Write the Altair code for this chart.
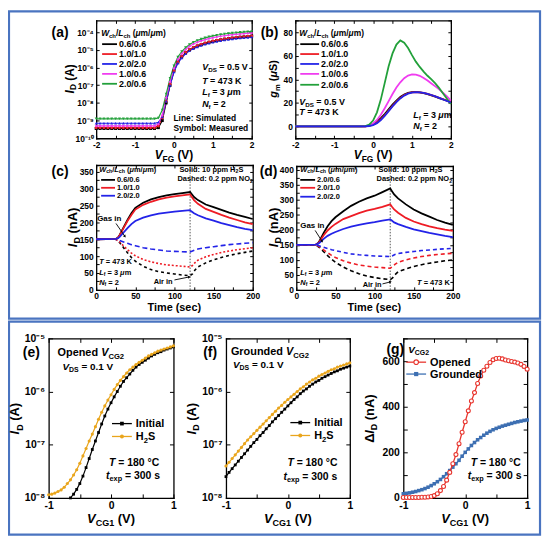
import math
import altair as alt
import pandas as pd

# ------------------------------------------------------------------ data
VFG = [-2.0, -1.9, -1.8, -1.7, -1.6, -1.5, -1.4, -1.3, -1.2, -1.1, -1.0,
       -0.9, -0.8, -0.7, -0.6, -0.5, -0.4, -0.3, -0.2, -0.1, 0.0,
       0.1, 0.2, 0.3, 0.4, 0.5, 0.6, 0.7, 0.8, 0.9, 1.0,
       1.1, 1.2, 1.3, 1.4, 1.5, 1.6, 1.7, 1.8, 1.9, 2.0]
SER_A = ["0.6/0.6", "1.0/1.0", "2.0/2.0", "1.0/0.6", "2.0/0.6"]
# (a) log10(I_D / A)
LOGI_0606 = [-9.45, -9.45, -9.45, -9.45, -9.45, -9.45, -9.45, -9.45, -9.45, -9.45, -9.45,
             -9.45, -9.45, -9.45, -9.45, -9.45, -9.4, -9.0, -8.0, -7.0, -6.2,
             -5.7, -5.4, -5.17, -5.0, -4.88, -4.78, -4.70, -4.63, -4.57, -4.52,
             -4.47, -4.43, -4.39, -4.36, -4.33, -4.30, -4.28, -4.26, -4.24, -4.22]
LOGI_1010 = [-9.4, -9.4, -9.4, -9.4, -9.4, -9.4, -9.4, -9.4, -9.4, -9.4, -9.4,
             -9.4, -9.4, -9.4, -9.4, -9.4, -9.3, -8.85, -7.9, -6.95, -6.2,
             -5.7, -5.38, -5.15, -4.98, -4.86, -4.76, -4.68, -4.61, -4.55, -4.5,
             -4.46, -4.42, -4.38, -4.35, -4.32, -4.29, -4.27, -4.25, -4.23, -4.21]
LOGI_2020 = [-9.15, -9.15, -9.15, -9.15, -9.15, -9.15, -9.15, -9.15, -9.15, -9.15, -9.15,
             -9.15, -9.15, -9.15, -9.15, -9.15, -9.1, -8.8, -7.9, -7.0, -6.25,
             -5.75, -5.45, -5.22, -5.05, -4.93, -4.83, -4.75, -4.68, -4.62, -4.57,
             -4.52, -4.48, -4.44, -4.41, -4.38, -4.35, -4.33, -4.31, -4.29, -4.27]
LOGI_1006 = [-9.3, -9.3, -9.3, -9.3, -9.3, -9.3, -9.3, -9.3, -9.3, -9.3, -9.3,
             -9.3, -9.3, -9.3, -9.3, -9.3, -9.2, -8.7, -7.7, -6.8, -6.05,
             -5.55, -5.22, -4.98, -4.8, -4.67, -4.57, -4.49, -4.42, -4.36, -4.31,
             -4.27, -4.23, -4.2, -4.17, -4.14, -4.12, -4.1, -4.08, -4.06, -4.05]
LOGI_2006 = [-8.9, -8.9, -8.9, -8.9, -8.9, -8.9, -8.9, -8.9, -8.9, -8.9, -8.9,
             -8.9, -8.9, -8.9, -8.9, -8.9, -8.85, -8.4, -7.5, -6.6, -5.9,
             -5.4, -5.1, -4.87, -4.7, -4.57, -4.47, -4.39, -4.32, -4.26, -4.21,
             -4.17, -4.13, -4.1, -4.07, -4.05, -4.03, -4.01, -3.99, -3.97, -3.96]
# (b) g_m (uS)
GM_0606 = [0, 0, 0, 0, 0, 0, 0, 0, 0, 0, 0, 0, 0, 0, 0, 0, 0, 0,
           0.2, 0.8, 2, 4, 7, 10.5, 14.5, 18.5, 22, 25, 27, 28.5, 29.2,
           29.3, 29, 28.3, 27.4, 26.4, 25.3, 24.1, 23, 21.8, 20.7]
GM_1010 = [0, 0, 0, 0, 0, 0, 0, 0, 0, 0, 0, 0, 0, 0, 0, 0, 0, 0,
           0.1, 0.5, 1.5, 3.2, 6, 9.5, 13.5, 17.5, 21, 24.2, 26.6, 28.2, 29,
           29.2, 29, 28.4, 27.6, 26.6, 25.5, 24.3, 23.1, 21.9, 20.8]
GM_2020 = [0, 0, 0, 0, 0, 0, 0, 0, 0, 0, 0, 0, 0, 0, 0, 0, 0, 0,
           0.1, 0.4, 1.2, 2.8, 5.5, 9, 13, 17, 20.7, 23.8, 26.2, 27.9, 28.8,
           29.1, 29, 28.5, 27.7, 26.7, 25.5, 24.2, 22.9, 21.6, 20.3]
GM_1006 = [0, 0, 0, 0, 0, 0, 0, 0, 0, 0, 0, 0, 0, 0, 0, 0, 0, 0,
           0.2, 0.8, 2.5, 5.5, 10, 15.5, 21.5, 27.5, 33, 37.5, 41, 43.2, 44.2,
           44, 43, 41.2, 39, 36.5, 34, 31.5, 28.5, 25.5, 22]
GM_2006 = [0, 0, 0, 0, 0, 0, 0, 0, 0, 0, 0, 0, 0, 0, 0, 0, 0, 0,
           0.3, 1.5, 5, 12, 23, 37, 51, 62, 69.5, 73, 71, 66.5, 60.5,
           55, 50.5, 46.5, 43, 40, 36.5, 32.5, 28, 23.5, 19]
# (c), (d) transient I_D (nA)
T_SOLID = [0, 25, 28, 30, 35, 40, 45, 50, 60, 70, 80, 90, 100, 110, 120,
           122, 125, 130, 140, 150, 160, 170, 180, 190, 200]
T_DASH = [0, 25, 30, 35, 40, 45, 50, 60, 70, 80, 90, 100, 110, 120,
          123, 126, 130, 140, 150, 160, 170, 180, 190, 200]
SER_C = ["0.6/0.6", "1.0/1.0", "2.0/2.0"]
C_H2S_0606 = [150, 151, 155, 163, 185, 207, 227, 243, 258, 268, 275, 280, 284, 287, 290,
              284, 275, 266, 253, 245, 237, 229, 222, 216, 210]
C_H2S_1010 = [150, 151, 155, 162, 183, 204, 222, 238, 252, 261, 268, 273, 277, 280, 283,
              276, 266, 255, 240, 231, 222, 214, 207, 200, 195]
C_H2S_2020 = [150, 151, 153, 157, 170, 183, 195, 204, 214, 221, 226, 229, 232, 234, 236,
              232, 227, 221, 212, 205, 198, 192, 186, 181, 177]
C_NO2_0606 = [150, 150, 140, 125, 110, 96, 85, 70, 60, 54, 50, 47, 44, 42,
              47, 58, 68, 80, 89, 96, 102, 107, 111, 115]
C_NO2_1010 = [150, 150, 142, 130, 119, 109, 101, 90, 83, 78, 74, 72, 70, 68,
              72, 80, 88, 98, 105, 111, 115, 119, 122, 125]
C_NO2_2020 = [150, 150, 146, 142, 138, 134, 131, 125, 121, 118, 115, 114, 113, 112,
              115, 118, 121, 125, 128, 131, 134, 136, 138, 140]
SER_D = ["2.0/0.6", "2.0/1.0", "2.0/2.0"]
D_H2S_2006 = [150, 151, 156, 165, 190, 212, 229, 242, 262, 280, 294, 305, 314, 326, 338,
              330, 318, 305, 285, 268, 255, 244, 233, 224, 217]
D_H2S_2010 = [150, 151, 155, 162, 182, 198, 210, 220, 236, 246, 256, 264, 270, 277, 285,
              278, 268, 257, 240, 228, 219, 212, 206, 201, 197]
D_H2S_2020 = [150, 151, 154, 158, 170, 180, 187, 193, 203, 211, 217, 222, 226, 231, 235,
              231, 225, 219, 210, 202, 196, 190, 185, 180, 176]
D_NO2_2006 = [150, 150, 140, 127, 114, 102, 92, 76, 64, 54, 46, 41, 37, 34,
              40, 50, 60, 70, 78, 84, 89, 93, 97, 100]
D_NO2_2010 = [150, 150, 143, 133, 124, 115, 108, 97, 89, 83, 79, 76, 74, 72,
              77, 85, 92, 100, 106, 111, 115, 118, 120, 122]
D_NO2_2020 = [150, 150, 146, 142, 138, 134, 131, 125, 120, 117, 115, 113, 112, 111,
              114, 118, 121, 125, 128, 131, 133, 135, 137, 138]
# (e)-(g) vs V_CG1
VCG = [-1.0, -0.95, -0.9, -0.85, -0.8, -0.75, -0.7, -0.65, -0.6, -0.55, -0.5,
       -0.45, -0.4, -0.35, -0.3, -0.25, -0.2, -0.15, -0.1, -0.05, 0.0,
       0.05, 0.1, 0.15, 0.2, 0.25, 0.3, 0.35, 0.4, 0.45, 0.5,
       0.55, 0.6, 0.65, 0.7, 0.75, 0.8, 0.85, 0.9, 0.95, 1.0]
E_INIT_FROM = 7  # initial curve enters the frame at V_CG1 = -0.65 V
E_INIT = [-8.0, -7.93, -7.84, -7.73, -7.59, -7.43, -7.26, -7.09, -6.93, -6.77,
          -6.61, -6.46, -6.33, -6.21, -6.10, -6.0, -5.9, -5.81, -5.74, -5.67,
          -5.6, -5.54, -5.49, -5.45, -5.41, -5.37, -5.33, -5.3, -5.27, -5.25,
          -5.22, -5.2, -5.18, -5.16]
E_H2S = [-7.94, -7.93, -7.91, -7.88, -7.85, -7.80, -7.73, -7.66, -7.57, -7.47, -7.35,
         -7.21, -7.07, -6.93, -6.80, -6.66, -6.52, -6.39, -6.27, -6.16, -6.06,
         -5.96, -5.87, -5.79, -5.72, -5.65, -5.59, -5.54, -5.49, -5.45, -5.41,
         -5.37, -5.33, -5.30, -5.27, -5.24, -5.22, -5.20, -5.18, -5.16, -5.14]
F_INIT = [-7.60, -7.52, -7.45, -7.38, -7.31, -7.24, -7.17, -7.10, -7.03, -6.96, -6.90,
          -6.83, -6.77, -6.70, -6.64, -6.57, -6.51, -6.45, -6.39, -6.33, -6.27,
          -6.21, -6.15, -6.10, -6.04, -5.99, -5.95, -5.90, -5.86, -5.82, -5.79,
          -5.75, -5.72, -5.69, -5.66, -5.63, -5.61, -5.58, -5.56, -5.54, -5.52]
F_H2S = [-7.40, -7.33, -7.26, -7.19, -7.12, -7.05, -6.98, -6.91, -6.85, -6.79, -6.73,
         -6.67, -6.61, -6.55, -6.49, -6.43, -6.37, -6.31, -6.26, -6.20, -6.15,
         -6.10, -6.05, -6.00, -5.95, -5.91, -5.86, -5.82, -5.78, -5.75, -5.71,
         -5.68, -5.65, -5.62, -5.59, -5.57, -5.54, -5.52, -5.50, -5.48, -5.46]
G_OPENED = [2, 2, 2, 2, 2, 2, 3, 3, 4, 6, 10, 18, 32, 50, 78, 112, 150, 190, 238, 288, 334,
            382, 425, 462, 502, 535, 560, 578, 594, 606, 612, 613, 610, 605, 602, 599,
            596, 592, 586, 577, 565]
G_GROUNDED = [18, 20, 22, 25, 28, 32, 36, 41, 47, 54, 62, 71, 81, 93, 106, 120, 135, 150,
              165, 183, 200, 215, 230, 243, 255, 265, 275, 284, 292, 299, 305, 310, 315,
              319, 323, 327, 331, 334, 337, 340, 342]

# ------------------------------------------------------------------ styling
OX, OY = 8.0, 8.0
CW_, CH_ = 539, 531
FONT = "Liberation Sans"
BLACK, RED, BLUE, MAGENTA, GREEN = "#000000", "#EE1C25", "#2323E8", "#F03CF0", "#22A03A"
ORANGE, GRED, GBLUE, FRAMEBLUE = "#E9A51C", "#E8352E", "#3D6FB2", "#4A74C0"
COL5 = [BLACK, RED, BLUE, MAGENTA, GREEN]
SHP5 = ["square", "circle", "triangle-up", "diamond", "triangle-down"]
COL3 = [BLACK, RED, BLUE]
LINEXPR = "'' + datum.value"

WID = {}
for ch in "0123456789":
    WID[ch] = 0.556
for ch in " ,./":
    WID[ch] = 0.278
for ch in "()-:":
    WID[ch] = 0.333
WID.update({"=": 0.584, "°": 0.4, "μ": 0.611, "Δ": 0.70})
WID.update(dict(A=.722, B=.722, C=.722, D=.722, E=.667, F=.611, G=.778, H=.722, I=.278,
                J=.556, K=.722, L=.611, M=.833, N=.722, O=.778, P=.667, Q=.778, R=.722,
                S=.667, T=.611, U=.722, V=.667, W=.944, X=.667, Y=.667, Z=.611))
WID.update(dict(a=.556, b=.611, c=.556, d=.611, e=.556, f=.333, g=.611, h=.611, i=.278,
                j=.278, k=.556, l=.278, m=.889, n=.611, o=.611, p=.611, q=.611, r=.389,
                s=.556, t=.333, u=.611, v=.556, w=.778, x=.556, y=.556, z=.5))


def tw(s, fs):
    return sum(WID.get(c, 0.6) for c in s) * fs


TXT, RULES, HEADS, LMF, LMO = [], [], [], [], []
SUBR = 0.7


def rich(parts, x, y, fs, anchor="left", angle=0, col="black"):
    segs = [(t, st, fs * SUBR if st.startswith("s") else fs) for t, st in parts]
    total = sum(tw(t, f) for t, st, f in segs)
    off = {"left": 0.0, "center": -total / 2, "right": -total}[anchor]
    for t, st, f in segs:
        lead = len(t) - len(t.lstrip(" "))
        off += tw(" " * lead, f)
        s = t.strip(" ")
        shift = 0.24 * fs if st.startswith("s") else 0.0
        base = 0.35 * fs
        if angle == 0:
            px, py = x + off, y + base + shift
        else:
            px, py = x + base + shift, y - off
        if s:
            TXT.append(dict(px=px - OX, py=py - OY, t=s, fs=f, ang=angle, col=col,
                            it=st in ("i", "si")))
        off += tw(t.lstrip(" "), f)


def rule(x1, y1, x2, y2, col="black", sw=1.0):
    RULES.append(dict(x=x1 - OX, x2=x2 - OX, y=y1 - OY, y2=y2 - OY, col=col, sw=sw))


def arrow(x1, y1, x2, y2):
    rule(x1, y1, x2, y2, "black", 0.9)
    ang = math.degrees(math.atan2(x2 - x1, -(y2 - y1))) % 360
    HEADS.append(dict(px=x2 - OX, py=y2 - OY, ang=ang))


SUP = {"-": "⁻", "0": "⁰", "1": "¹", "2": "²", "3": "³", "4": "⁴", "5": "⁵",
       "6": "⁶", "7": "⁷", "8": "⁸", "9": "⁹"}


def logexpr(lo, hi):
    arr = ["'10" + "".join(SUP[c] for c in str(e)) + "'" for e in range(lo, hi + 1)]
    return "[" + ",".join(arr) + "][round(log(datum.value)/LN10)+(" + str(-lo) + ")]"


def frame_layers(box, xdom, ydom, xtype, ytype, xlab, ylab, xtk, ytk, lfs, tl,
                 ylexpr=LINEXPR, xpad=2, ypad=3):
    X0, X1, Y0, Y1 = [v - o for v, o in zip(box, (OX, OX, OY, OY))]
    xs = alt.Scale(type=xtype, domain=xdom, range=[X0, X1], nice=False)
    ys = alt.Scale(type=ytype, domain=ydom, range=[Y1, Y0], nice=False)
    base = alt.Chart(pd.DataFrame({"x": [xdom[0]], "y": [ydom[0]]})).mark_point(opacity=0)
    common = dict(grid=False, title="", domainColor="black", tickColor="black",
                  labelColor="black", labelFont=FONT, labelFontWeight="bold",
                  labelFontSize=lfs)
    lx = alt.Axis(orient="bottom", offset=Y1 - CH_, values=xlab, ticks=False, domain=False,
                  labelPadding=xpad, labelFlush=False, labelOverlap=False,
                  labelExpr=LINEXPR, **common)
    ly = alt.Axis(orient="left", offset=-X0, values=ylab, ticks=False, domain=False,
                  labelPadding=ypad, labelFlush=False, labelOverlap=False,
                  labelExpr=ylexpr, **common)
    l1 = base.encode(x=alt.X("x:Q", scale=xs, axis=lx), y=alt.Y("y:Q", scale=ys, axis=ly))
    tk = dict(labels=False, ticks=True, tickSize=tl, tickWidth=1, domain=True,
              domainWidth=1.3, domainCap="square", **common)
    l2 = base.encode(
        x=alt.X("x:Q", scale=xs, axis=alt.Axis(orient="top", offset=-Y1, values=xtk, **tk)),
        y=alt.Y("y:Q", scale=ys, axis=alt.Axis(orient="right", offset=X0 - CW_, values=ytk, **tk)))
    l3 = base.encode(
        x=alt.X("x:Q", scale=xs, axis=alt.Axis(orient="bottom", offset=Y0 - CH_, values=xtk, **tk)),
        y=alt.Y("y:Q", scale=ys, axis=alt.Axis(orient="left", offset=-X1, values=ytk, **tk)))
    return xs, ys, [l1, l2, l3]


def line(xv, yv, xs, ys, col, sw, dash=None):
    kw = dict(color=col, strokeWidth=sw)
    if dash:
        kw["strokeDash"] = dash
    return alt.Chart(pd.DataFrame({"x": xv, "y": yv})).mark_line(**kw).encode(
        x=alt.X("x:Q", scale=xs, axis=None), y=alt.Y("y:Q", scale=ys, axis=None))


def pts(xv, yv, xs, ys, col, shape, size, filled=True, sw=1.0):
    if filled:
        m = alt.Chart(pd.DataFrame({"x": xv, "y": yv})).mark_point(
            shape=shape, filled=True, size=size, color=col, opacity=1)
    else:
        m = alt.Chart(pd.DataFrame({"x": xv, "y": yv})).mark_point(
            shape=shape, filled=False, size=size, color=col, fill="white", fillOpacity=1,
            strokeWidth=sw, opacity=1)
    return m.encode(x=alt.X("x:Q", scale=xs, axis=None), y=alt.Y("y:Q", scale=ys, axis=None))


layers = []

# ---------------------------------------------------------------- panel (a)
xa, ya, fl = frame_layers((97, 254, 18, 137), [-2, 2], [1e-10, 10 ** -3.33], "linear", "log",
                          [-2, -1, 0, 1, 2], [10.0 ** e for e in range(-10, -3)],
                          [-2, -1.5, -1, -0.5, 0, 0.5, 1, 1.5, 2],
                          [10.0 ** e for e in range(-10, -3)], 8.5, 3, logexpr(-10, -4))
layers += fl
LOGA = [LOGI_0606, LOGI_1010, LOGI_2020, LOGI_1006, LOGI_2006]
for arr, c in zip(LOGA, COL5):
    layers.append(line(VFG, [10 ** v for v in arr], xa, ya, c, 1.2))
for arr, c, s in zip(LOGA, COL5, SHP5):
    layers.append(pts(VFG, [10 ** v for v in arr], xa, ya, c, s, 9))

# ---------------------------------------------------------------- panel (b)
xb, yb, fl = frame_layers((298, 455, 18, 137), [-2, 2], [-10, 90], "linear", "linear",
                          [-2, -1, 0, 1, 2], [0, 20, 40, 60, 80],
                          [-2, -1.5, -1, -0.5, 0, 0.5, 1, 1.5, 2],
                          [-10, 0, 10, 20, 30, 40, 50, 60, 70, 80, 90], 8.5, 3)
layers += fl
GMS = [GM_0606, GM_1010, GM_1006, GM_2006, GM_2020]
GMC = [BLACK, RED, MAGENTA, GREEN, BLUE]
for arr, c in zip(GMS, GMC):
    layers.append(line(VFG, arr, xb, yb, c, 1.8))

# ---------------------------------------------------------------- panel (c)
xc, yc, fl = frame_layers((97, 255, 164, 290), [0, 200], [0, 370], "linear", "linear",
                          [0, 50, 100, 150, 200], [0, 50, 100, 150, 200, 250, 300, 350],
                          [0, 25, 50, 75, 100, 125, 150, 175, 200],
                          [0, 25, 50, 75, 100, 125, 150, 175, 200, 225, 250, 275, 300, 325, 350],
                          8.5, 3)
layers += fl
layers.append(alt.Chart(pd.DataFrame({"t": [120], "a": [0], "b": [370]})).mark_rule(
    color="#444444", strokeWidth=0.9, strokeDash=[1.5, 1.5]).encode(
    x=alt.X("t:Q", scale=xc, axis=None), y=alt.Y("a:Q", scale=yc, axis=None), y2="b:Q"))
for arr, c, d in zip([C_NO2_0606, C_NO2_1010, C_NO2_2020], COL3, [[3, 3], [2, 2], [5, 3]]):
    layers.append(line(T_DASH, arr, xc, yc, c, 1.6, d))
for arr, c in zip([C_H2S_0606, C_H2S_1010, C_H2S_2020], COL3):
    layers.append(line(T_SOLID, arr, xc, yc, c, 1.8))

# ---------------------------------------------------------------- panel (d)
xd, yd, fl = frame_layers((299, 457, 165, 290), [0, 200], [0, 413], "linear", "linear",
                          [0, 50, 100, 150, 200], [0, 50, 100, 150, 200, 250, 300, 350, 400],
                          [0, 25, 50, 75, 100, 125, 150, 175, 200],
                          [0, 25, 50, 75, 100, 125, 150, 175, 200, 225, 250, 275, 300, 325,
                           350, 375, 400], 8.5, 3)
layers += fl
layers.append(alt.Chart(pd.DataFrame({"t": [120], "a": [0], "b": [413]})).mark_rule(
    color="#444444", strokeWidth=0.9, strokeDash=[1.5, 1.5]).encode(
    x=alt.X("t:Q", scale=xd, axis=None), y=alt.Y("a:Q", scale=yd, axis=None), y2="b:Q"))
for arr, c in zip([D_NO2_2006, D_NO2_2010, D_NO2_2020], COL3):
    layers.append(line(T_DASH, arr, xd, yd, c, 1.6, [4, 3]))
for arr, c in zip([D_H2S_2006, D_H2S_2010, D_H2S_2020], COL3):
    layers.append(line(T_SOLID, arr, xd, yd, c, 1.8))

# ---------------------------------------------------------------- panels (e), (f)
LOGV = [1e-8, 1e-7, 1e-6, 1e-5]
xe, ye, fl = frame_layers((49, 175, 339, 500), [-1, 1], [1e-8, 1e-5], "linear", "log",
                          [-1, 0, 1], LOGV, [-1, -0.5, 0, 0.5, 1], LOGV, 10.5, 4,
                          logexpr(-8, -5), 3, 4)
layers += fl
ve = VCG[E_INIT_FROM:]
layers.append(line(ve, [10 ** v for v in E_INIT], xe, ye, BLACK, 1.2))
layers.append(pts(ve, [10 ** v for v in E_INIT], xe, ye, BLACK, "square", 8))
layers.append(line(VCG, [10 ** v for v in E_H2S], xe, ye, ORANGE, 1.2))
layers.append(pts(VCG, [10 ** v for v in E_H2S], xe, ye, ORANGE, "circle", 10))

xf, yf, fl = frame_layers((228, 353, 339, 500), [-1, 1], [1e-8, 1e-5], "linear", "log",
                          [-1, 0, 1], LOGV, [-1, -0.5, 0, 0.5, 1], LOGV, 10.5, 4,
                          logexpr(-8, -5), 3, 4)
layers += fl
layers.append(line(VCG, [10 ** v for v in F_INIT], xf, yf, BLACK, 1.2))
layers.append(pts(VCG, [10 ** v for v in F_INIT], xf, yf, BLACK, "square", 8))
layers.append(line(VCG, [10 ** v for v in F_H2S], xf, yf, ORANGE, 1.2))
layers.append(pts(VCG, [10 ** v for v in F_H2S], xf, yf, ORANGE, "circle", 10))

# ---------------------------------------------------------------- panel (g)
xg, yg, fl = frame_layers((407, 532, 339, 500), [-1, 1], [0, 700], "linear", "linear",
                          [-1, 0, 1], [0, 200, 400, 600], [-1, -0.5, 0, 0.5, 1],
                          [0, 100, 200, 300, 400, 500, 600, 700], 10.5, 4, LINEXPR, 3, 4)
layers += fl
layers.append(line(VCG, G_GROUNDED, xg, yg, GBLUE, 1.3))
layers.append(pts(VCG, G_GROUNDED, xg, yg, GBLUE, "square", 13))
layers.append(line(VCG, G_OPENED, xg, yg, GRED, 1.3))
layers.append(pts(VCG, G_OPENED, xg, yg, GRED, "circle", 16, filled=False, sw=1.1))

# ---------------------------------------------------------------- texts & legends
WL = [("W", "i"), ("ch", "s"), ("/", "n"), ("L", "i"), ("ch", "s"), (" (", "n"),
      ("μ", "i"), ("m/", "n"), ("μ", "i"), ("m)", "n")]
ID_ = [("I", "i"), ("D", "s")]
VFG_T = [("V", "i"), ("FG", "s"), (" (V)", "n")]
VCG_T = [("V", "i"), ("CG1", "s"), (" (V)", "n")]

# (a)
rich([("(a)", "n")], 52, 30, 14)
rich(ID_ + [(" (A)", "n")], 70, 77, 12, "center", 270)
rich(VFG_T, 175.5, 154, 12, "center")
rich(WL, 102, 31, 8.5)
for name, c, yy in zip(SER_A, COL5, [42, 52, 62, 72, 82]):
    rule(103, yy, 118, yy, c, 1.8)
    rich([(name, "n")], 120, yy, 9)
rich([("V", "i"), ("DS", "s"), (" = 0.5 V", "n")], 204, 65, 9)
rich([("T", "i"), (" = 473 K", "n")], 204, 79, 9)
rich([("L", "i"), ("f", "s"), (" = 3 ", "n"), ("μ", "i"), ("m", "n")], 204, 90, 9)
rich([("N", "i"), ("f", "s"), (" = 2", "n")], 204, 102, 9)
rich([("Line: Simulated", "n")], 175, 117, 8.5)
rich([("Symbol: Measured", "n")], 175, 127, 8.5)

# (b)
rich([("(b)", "n")], 263, 30, 14)
rich([("g", "i"), ("m", "s"), (" (", "n"), ("μ", "i"), ("S)", "n")], 276, 77, 11, "center", 270)
rich(VFG_T, 376.5, 154, 12, "center")
rich(WL, 302, 31, 8.5)
for name, c, yy in zip(SER_A, COL5, [42, 52, 62, 72, 83]):
    rule(303, yy, 322, yy, c, 1.8)
    rich([(name, "n")], 324, yy, 9)
rich([("V", "i"), ("DS", "s"), (" = 0.5 V", "n")], 302, 100, 9)
rich([("T", "i"), (" = 473 K", "n")], 302, 110, 9)
rich([("L", "i"), ("f", "s"), (" = 3 ", "n"), ("μ", "i"), ("m", "n")], 417, 113, 9)
rich([("N", "i"), ("f", "s"), (" = 2", "n")], 417, 124, 9)

# (c)
rich([("(c)", "n")], 52, 170, 14)
rich(ID_ + [(" (nA)", "n")], 73, 227, 13, "center", 270)
rich([("Time (sec)", "n")], 176, 308, 11, "center")
rich(WL, 100, 168, 7.5)
for name, c, yy in zip(SER_C, COL3, [179, 187, 195]):
    rule(102, yy, 116, yy, c, 1.8)
    rich([(name, "n")], 118, yy, 7.5)
rich([("Solid: 10 ppm H", "n"), ("2", "s"), ("S", "n")], 181, 168, 7.5)
rich([("Dashed: 0.2 ppm NO", "n"), ("2", "s")], 179, 178, 7.5)
rich([("Gas in", "n")], 98, 218, 8)
arrow(117, 223, 126, 236)
rich([("T", "i"), (" = 473 K", "n")], 100, 261, 7.5)
rich([("L", "i"), ("f", "s"), (" = 3 ", "n"), ("μ", "i"), ("m", "n")], 100, 272, 7.5)
rich([("N", "i"), ("f", "s"), (" = 2", "n")], 100, 282, 7.5)
rich([("Air in", "n")], 155, 281, 7.5)
arrow(176, 280, 191, 277)

# (d)
rich([("(d)", "n")], 262, 170, 14)
rich(ID_ + [(" (nA)", "n")], 276, 227, 13, "center", 270)
rich([("Time (sec)", "n")], 378, 308, 11, "center")
rich(WL, 303, 168, 7.5)
for name, c, yy in zip(SER_D, COL3, [179, 187, 196]):
    rule(303, yy, 318, yy, c, 1.8)
    rich([(name, "n")], 320, yy, 7.5)
rich([("Solid: 10 ppm H", "n"), ("2", "s"), ("S", "n")], 382, 168, 7.5)
rich([("Dashed: 0.2 ppm NO", "n"), ("2", "s")], 380, 178, 7.5)
rich([("Gas in", "n")], 303, 225, 8)
arrow(318, 230, 325, 241)
rich([("L", "i"), ("f", "s"), (" = 3 ", "n"), ("μ", "i"), ("m", "n")], 303, 272, 7.5)
rich([("N", "i"), ("f", "s"), (" = 2", "n")], 303, 282, 7.5)
rich([("Air in", "n")], 366, 284, 7.5)
arrow(386, 284, 394, 282)
rich([("T", "i"), (" = 473 K", "n")], 454, 282, 7.5, "right")

# (e)
rich([("(e)", "n")], 23, 353, 14)
rich(ID_ + [(" (A)", "n")], 15, 420, 13, "center", 270)
rich(VCG_T, 112, 521, 13, "center")
rich([("Opened ", "n"), ("V", "i"), ("CG2", "s")], 58, 353, 11)
rich([("V", "i"), ("DS", "s"), (" = 0.1 V", "n")], 63, 367, 10)
rule(113, 425, 133, 425, BLACK, 1.3)
LMF.append(dict(px=123 - OX, py=425 - OY, col=BLACK, shp="square", sz=14))
rich([("Initial", "n")], 137, 425, 11)
rule(113, 438, 133, 438, ORANGE, 1.3)
LMF.append(dict(px=123 - OX, py=438 - OY, col=ORANGE, shp="circle", sz=16))
rich([("H", "n"), ("2", "s"), ("S", "n")], 137, 438, 11)
rich([("T", "i"), (" = 180 °C", "n")], 110, 464, 10.5)
rich([("t", "i"), ("exp", "s"), (" = 300 s", "n")], 107, 477, 10.5)

# (f)
rich([("(f)", "n")], 205, 353, 14)
rich(ID_ + [(" (A)", "n")], 193, 420, 13, "center", 270)
rich(VCG_T, 290.5, 521, 13, "center")
rich([("Grounded ", "n"), ("V", "i"), ("CG2", "s")], 233, 352, 11)
rich([("V", "i"), ("DS", "s"), (" = 0.1 V", "n")], 235, 365, 10)
rule(293, 424, 313, 424, BLACK, 1.3)
LMF.append(dict(px=303 - OX, py=424 - OY, col=BLACK, shp="square", sz=14))
rich([("Initial", "n")], 317, 424, 11)
rule(293, 437, 313, 437, ORANGE, 1.3)
LMF.append(dict(px=303 - OX, py=437 - OY, col=ORANGE, shp="circle", sz=16))
rich([("H", "n"), ("2", "s"), ("S", "n")], 317, 437, 11)
rich([("T", "i"), (" = 180 °C", "n")], 290, 464, 10.5)
rich([("t", "i"), ("exp", "s"), (" = 300 s", "n")], 286, 478, 10.5)

# (g)
rich([("(g)", "n")], 390, 350, 14)
rich([("Δ", "n")] + ID_ + [(" (nA)", "n")], 373, 420, 13, "center", 270)
rich(VCG_T, 469.5, 521, 13, "center")
rich([("V", "i"), ("CG2", "s")], 412, 350, 10)
rule(410, 363, 430, 363, GRED, 1.3)
LMO.append(dict(px=420 - OX, py=363 - OY, col=GRED, shp="circle", sz=22))
rich([("Opened", "n")], 434, 363, 11)
rule(410, 375, 430, 375, GBLUE, 1.3)
LMF.append(dict(px=420 - OX, py=375 - OY, col=GBLUE, shp="square", sz=18))
rich([("Grounded", "n")], 434, 375, 11)
rich([("T", "i"), (" = 180 °C", "n")], 475, 464, 10.5)
rich([("t", "i"), ("exp", "s"), (" = 300 s", "n")], 472, 477, 10.5)

# ---------------------------------------------------------------- decoration layers
BOXES = pd.DataFrame({"x": [9 - OX, 9 - OX], "x2": [545 - OX, 545 - OX],
                      "y": [9 - OY, 322 - OY], "y2": [319 - OY, 537 - OY]})
PXX = dict(scale=None, axis=None)
box_layer = alt.Chart(BOXES).mark_rect(fillOpacity=0, stroke=FRAMEBLUE, strokeWidth=2.2).encode(
    x=alt.X("x:Q", **PXX), x2="x2:Q", y=alt.Y("y:Q", **PXX), y2="y2:Q")

rule_layer = alt.Chart(pd.DataFrame(RULES)).mark_rule().encode(
    x=alt.X("x:Q", **PXX), x2="x2:Q", y=alt.Y("y:Q", **PXX), y2="y2:Q",
    color=alt.Color("col:N", scale=None, legend=None),
    strokeWidth=alt.StrokeWidth("sw:Q", scale=None, legend=None))
head_layer = alt.Chart(pd.DataFrame(HEADS)).mark_point(
    shape="triangle-up", filled=True, size=9, color="black", opacity=1).encode(
    x=alt.X("px:Q", **PXX), y=alt.Y("py:Q", **PXX), angle=alt.Angle("ang:Q", scale=None))
lmf_layer = alt.Chart(pd.DataFrame(LMF)).mark_point(filled=True, opacity=1).encode(
    x=alt.X("px:Q", **PXX), y=alt.Y("py:Q", **PXX),
    color=alt.Color("col:N", scale=None, legend=None),
    shape=alt.Shape("shp:N", scale=None, legend=None),
    size=alt.Size("sz:Q", scale=None, legend=None))
lmo_layer = alt.Chart(pd.DataFrame(LMO)).mark_point(
    filled=False, fill="white", fillOpacity=1, strokeWidth=1.2, opacity=1).encode(
    x=alt.X("px:Q", **PXX), y=alt.Y("py:Q", **PXX),
    color=alt.Color("col:N", scale=None, legend=None),
    shape=alt.Shape("shp:N", scale=None, legend=None),
    size=alt.Size("sz:Q", scale=None, legend=None))

dft = pd.DataFrame(TXT)


def text_layer(df, italic):
    return alt.Chart(df).mark_text(
        align="left", baseline="alphabetic", font=FONT, fontWeight="bold",
        fontStyle="italic" if italic else "normal").encode(
        x=alt.X("px:Q", **PXX), y=alt.Y("py:Q", **PXX), text="t:N",
        size=alt.Size("fs:Q", scale=None, legend=None),
        angle=alt.Angle("ang:Q", scale=None),
        color=alt.Color("col:N", scale=None, legend=None))


all_layers = [box_layer] + layers + [rule_layer, head_layer, lmf_layer, lmo_layer,
                                     text_layer(dft[~dft.it], False),
                                     text_layer(dft[dft.it], True)]

chart = alt.layer(*all_layers).resolve_scale(
    x="independent", y="independent").resolve_axis(
    x="independent", y="independent").properties(
    width=CW_, height=CH_, padding=0, background="white",
    autosize=alt.AutoSizeParams(type="none")).configure_view(strokeOpacity=0)

chart.save("out.html", embed_options={"renderer": "svg", "actions": False})
